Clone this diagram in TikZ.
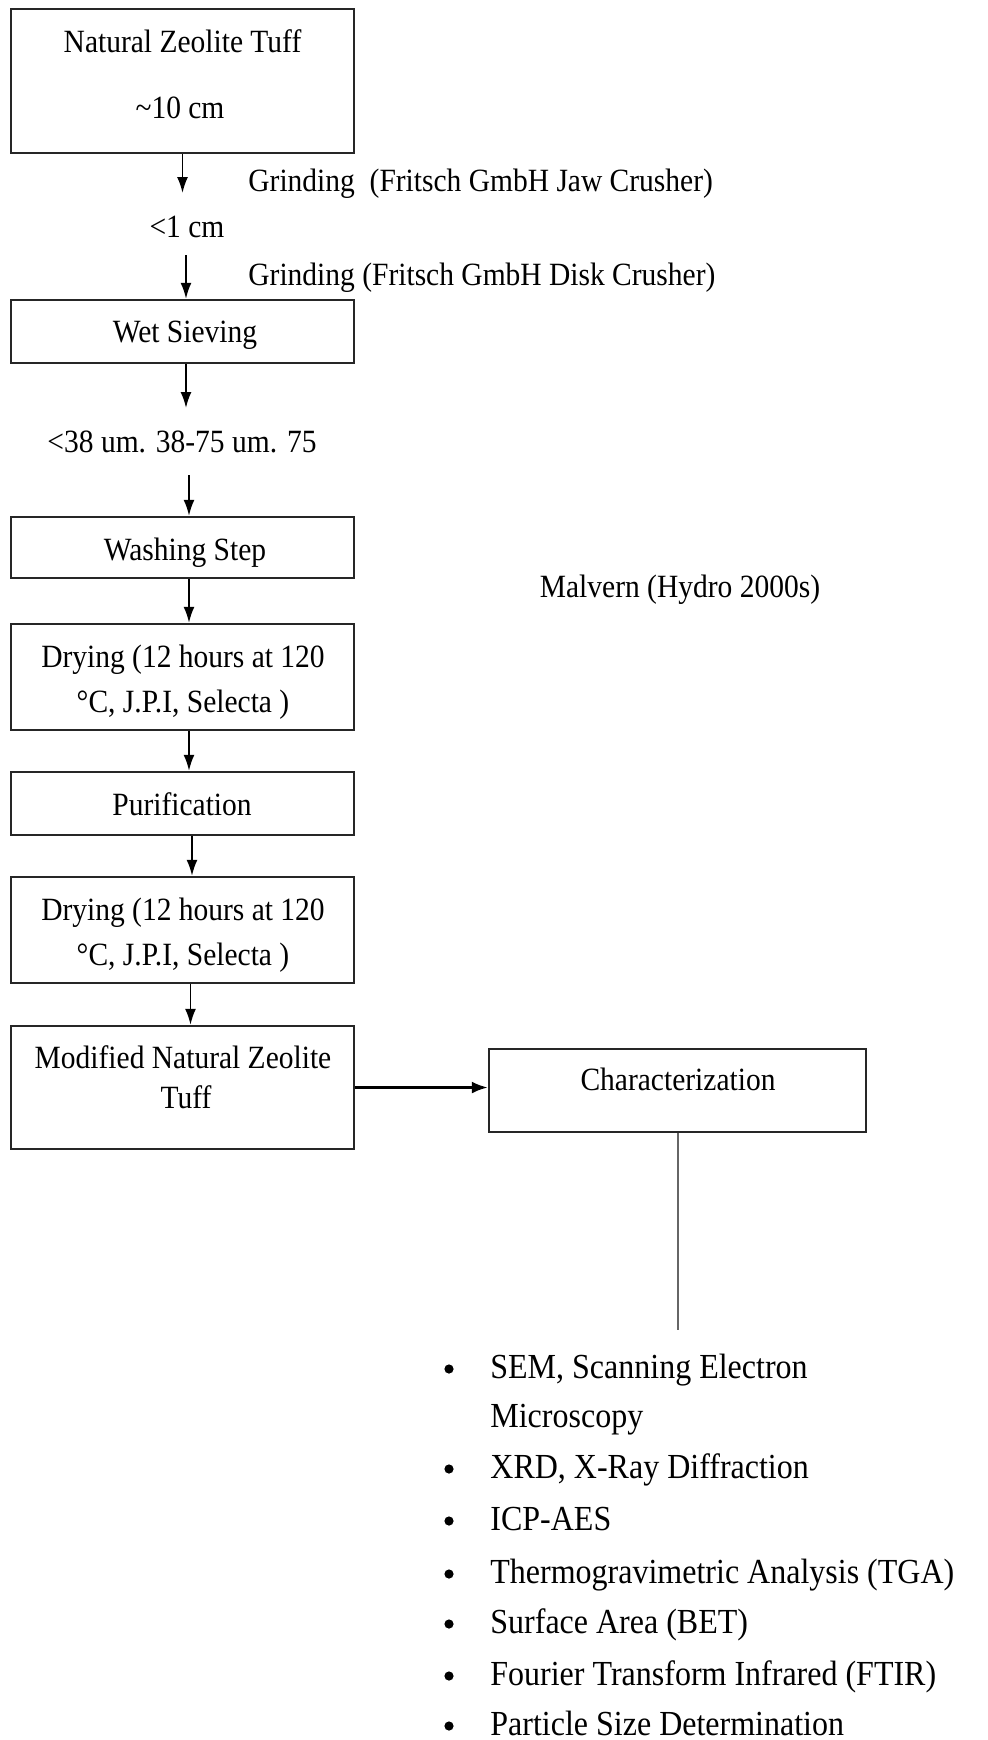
\documentclass[tikz,border=0pt]{standalone}
\usepackage{fontspec}
\usepackage{graphicx}
\setmainfont{Liberation Serif}
\usetikzlibrary{arrows.meta}
\newcommand{\vst}[1]{\scalebox{1}[1.1]{#1}}
\begin{document}
\begin{tikzpicture}[x=0.5pt,y=-0.5pt,
  box/.style={draw=black!85, line width=1.2pt, rectangle, inner sep=0pt, minimum width=171.5pt},
  txt/.style={font=\fontsize{14.75pt}{18pt}\selectfont, inner sep=0pt, anchor=base},
  ltxt/.style={txt, anchor=base west},
  itemtxt/.style={font=\fontsize{16pt}{19pt}\selectfont, inner sep=0pt, anchor=base west},
  dot/.style={circle, fill=black, inner sep=0pt, minimum size=4.6pt},
  flow/.style={line width=0.9pt, -{Latex[length=8pt,width=5.5pt]}},
  bigflow/.style={line width=1.3pt, -{Latex[length=8pt,width=6pt]}},
]
\fill[white] (0,0) rectangle (988,1740);
\useasboundingbox (0,0) rectangle (988,1740);

% boxes
\node[box, minimum height=72pt]   (b1)   at (182.5,81) {};
\node[box, minimum height=31.5pt] (wet)  at (182.5,331.5) {};
\node[box, minimum height=30.5pt] (wash) at (182.5,547.5) {};
\node[box, minimum height=53pt]   (dry1) at (182.5,677) {};
\node[box, minimum height=31.5pt] (puri) at (182.5,803.5) {};
\node[box, minimum height=53pt]   (dry2) at (182.5,930) {};
\node[box, minimum height=61.5pt] (mod)  at (182.5,1087.5) {};
\node[box, minimum width=188.5pt, minimum height=41.5pt] (char) at (677.5,1090.5) {};

% texts
\node[txt] (t1) at (182.5,53) {\vst{Natural Zeolite Tuff}};
\node[txt] (t2) at (180,118) {\vst{\textasciitilde10 cm}};
\node[ltxt] (g1) at (248,191) {\vst{Grinding\ \ (Fritsch GmbH Jaw Crusher)}};
\node[txt] (s1) at (187,237) {\vst{<1 cm}};
\node[ltxt] (g2) at (248,285) {\vst{Grinding (Fritsch GmbH Disk Crusher)}};
\node[txt] (tw) at (185,342) {\vst{Wet Sieving}};
\node[txt] (sz) at (182,452) {\vst{<38 um. 38-75 um. 75}};
\node[txt] (tws) at (185,560) {\vst{Washing Step}};
\node[txt] (mal) at (680,597) {\vst{Malvern (Hydro 2000s)}};
\node[txt] (d1a) at (183,667) {\vst{Drying (12 hours at 120}};
\node[txt] (d1b) at (183,712) {\vst{°C, J.P.I, Selecta )}};
\node[txt] (tp) at (182,815) {\vst{Purification}};
\node[txt] (d2a) at (183,920) {\vst{Drying (12 hours at 120}};
\node[txt] (d2b) at (183,965) {\vst{°C, J.P.I, Selecta )}};
\node[txt] (m1) at (183,1068) {\vst{Modified Natural Zeolite}};
\node[txt] (m2) at (186,1108) {\vst{Tuff}};
\node[txt] (tc) at (678,1090) {\vst{Characterization}};

% list
\node[dot] (p1) at (449,1369) {};
\node[itemtxt] (l1) at (490,1378) {\vst{SEM, Scanning Electron}};
\node[itemtxt] (l1b) at (490,1427) {\vst{Microscopy}};
\node[dot] (p2) at (449,1469) {};
\node[itemtxt] (l2) at (490,1478) {\vst{XRD, X-Ray Diffraction}};
\node[dot] (p3) at (449,1521) {};
\node[itemtxt] (l3) at (490,1530) {\vst{ICP-AES}};
\node[dot] (p4) at (449,1574) {};
\node[itemtxt] (l4) at (490,1583) {\vst{Thermogravimetric Analysis (TGA)}};
\node[dot] (p5) at (449,1624) {};
\node[itemtxt] (l5) at (490,1633) {\vst{Surface Area (BET)}};
\node[dot] (p6) at (449,1676) {};
\node[itemtxt] (l6) at (490,1685) {\vst{Fourier Transform Infrared (FTIR)}};
\node[dot] (p7) at (449,1726) {};
\node[itemtxt] (l7) at (490,1735) {\vst{Particle Size Determination}};

% connectors
\coordinate (a1) at (182.5,193);
\coordinate (a2) at (186,255);
\coordinate (a3) at (186,408);
\coordinate (a4) at (189,475);
\coordinate (lend) at (677.5,1330);
\draw[flow] (b1.south) -- (a1);
\draw[flow] (a2) -- (a2 |- wet.north);
\draw[flow] (a3 |- wet.south) -- (a3);
\draw[flow] (a4) -- (a4 |- wash.north);
\draw[flow] ([xshift=3.25pt]wash.south) -- ([xshift=3.25pt]dry1.north);
\draw[flow] ([xshift=3.25pt]dry1.south) -- ([xshift=3.25pt]puri.north);
\draw[flow] ([xshift=4.75pt]puri.south) -- ([xshift=4.75pt]dry2.north);
\draw[flow] ([xshift=4pt]dry2.south) -- ([xshift=4pt]mod.north);
\draw[bigflow] (mod.east) -- (mod.east -| char.west);
\draw[line width=1pt, black!60] (char.south) -- (lend);
\end{tikzpicture}
\end{document}
